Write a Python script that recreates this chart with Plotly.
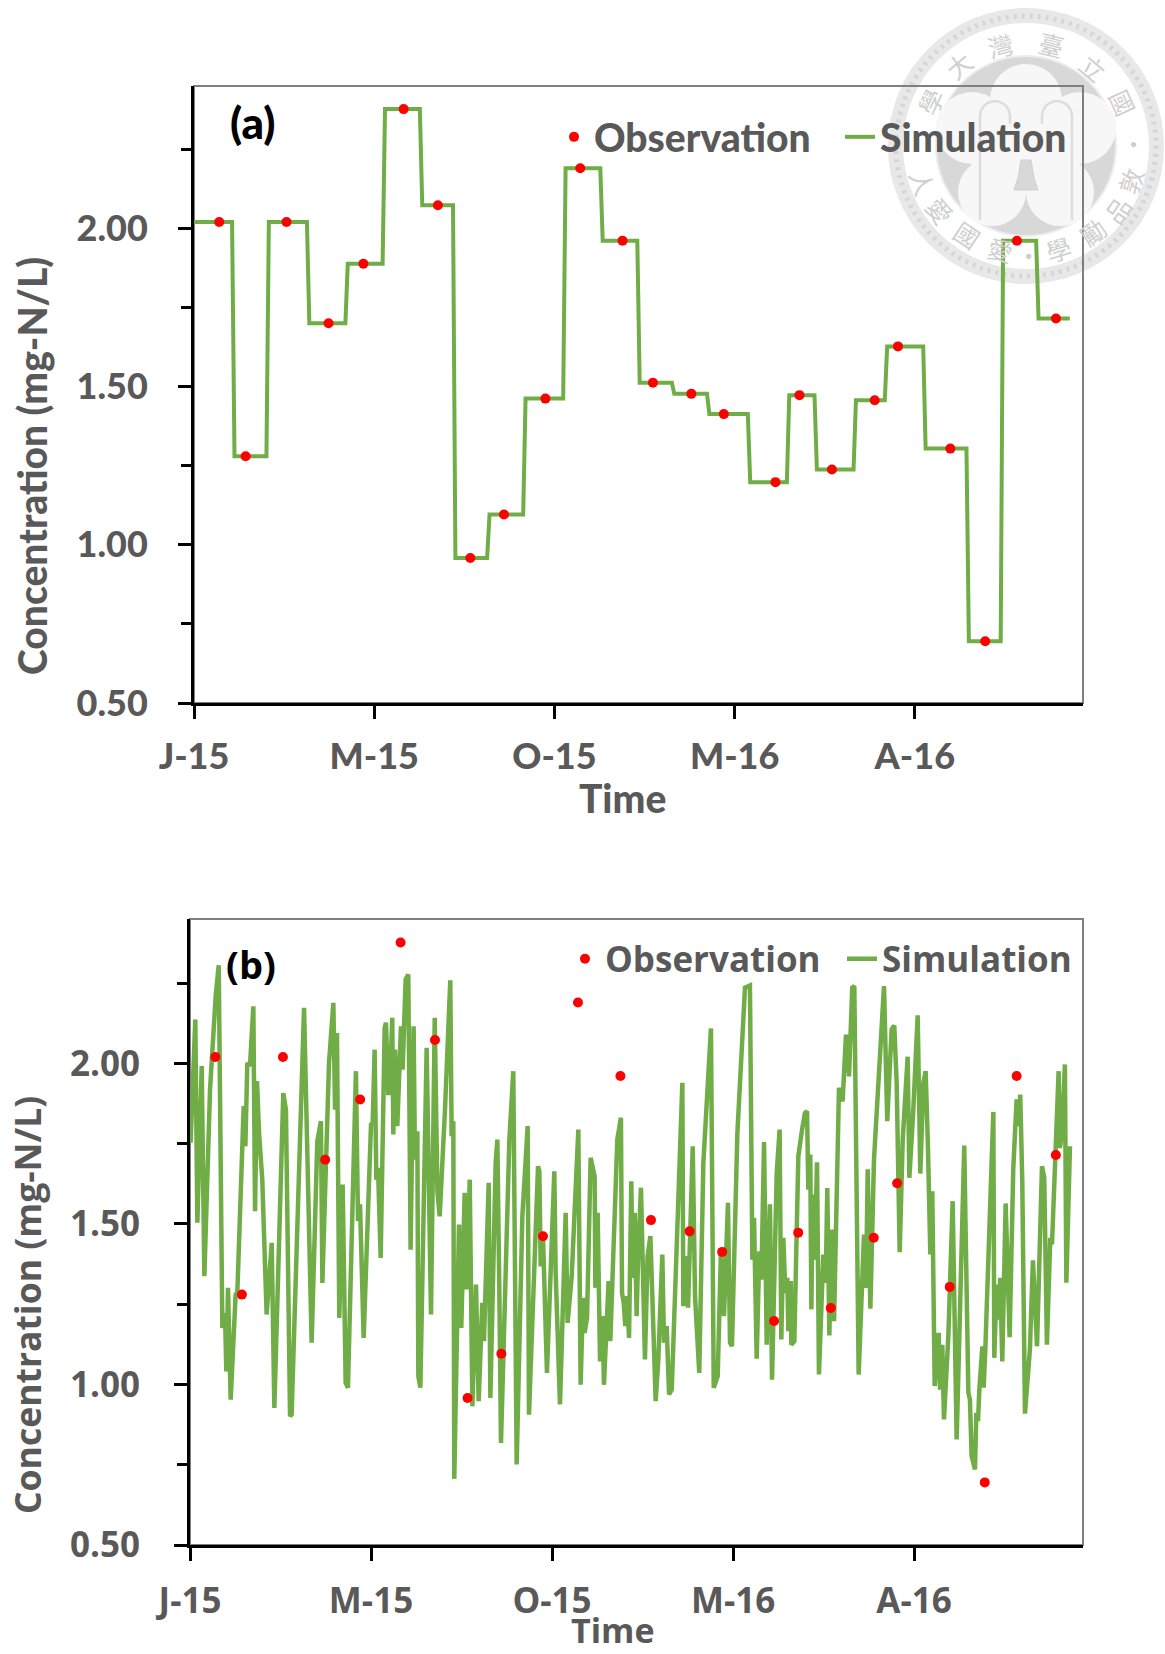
import math
import plotly.graph_objects as go

# ---------- data ----------
tick_days = [0, 150, 300, 450, 600]
tick_labels = ["J-15", "M-15", "O-15", "M-16", "A-16"]

obs_days = [21, 43, 77, 112, 141, 174.5, 203, 230, 258, 292.5, 321.5, 356.7, 382, 414, 441, 484, 504, 531, 566.6, 586, 629.6, 658.6, 685, 717.5]
obs_vals = [2.02, 1.28, 2.02, 1.70, 1.888, 2.377, 2.073, 0.958, 1.096, 1.462, 2.19, 1.961, 1.512, 1.477, 1.413, 1.198, 1.473, 1.238, 1.457, 1.627, 1.304, 0.695, 1.961, 1.715]

step_edges = [0, 32.7, 61.3, 95, 127, 158, 189, 216.6, 245, 275, 308.3, 339.2, 370, 398.8, 428, 462, 494.5, 517.5, 550, 576, 608, 644, 672.5, 702, 730]

sim_b_days = [0.5, 4.4, 6.1, 9.7, 11.9, 16.6, 21.3, 23.8, 26.8, 29, 30.1, 31.5, 33.7, 37.8, 39.2, 44.5, 45.9, 47.5, 49.7, 52.5, 53.9, 55.5, 57.2, 59.9, 63.5, 67.7, 69.9, 77.3, 79.5, 82.9, 84.2, 91.2, 94.5, 100.8, 105.5, 108.5, 109.7, 115.2, 118.8, 120.2, 121.8, 123.7, 126.5, 129, 130.9, 137.5, 139.2, 140.9, 143.9, 150, 151.4, 153, 154.4, 155.8, 158, 161.3, 162.4, 164.3, 165.4, 167.6, 168.5, 169.9, 171.8, 174.8, 176.2, 178.7, 180.9, 182.8, 185.3, 186.4, 188.4, 189.2, 190.9,
              196.1, 199.7, 202.8, 205, 206.9, 211.3, 215.7, 216.8, 218.2, 219, 222.9, 224.8, 227.6, 229.3, 231.8, 234, 237, 239.2, 242.2, 243.6, 247.5, 248.9, 253.3, 254.7, 256.3, 257.7, 264.6, 267.9, 270.7, 275.4, 279.8, 280.9, 288.4, 289.5, 290.6, 292.5, 295.8, 301.9, 303, 306.6, 311.3, 312.9, 316.3, 321.8, 323.7, 325.7, 327, 329, 332, 335.3, 335.9, 337.8, 339.8, 342, 343, 346.9, 348.3, 354.1, 357.1, 358, 359.4, 360.7, 362.1, 363.8, 365.7, 366.8, 368.5, 370.1, 371.5, 373.7, 377, 379.2, 381.5,
              385.9, 388.1, 391.4, 392.8, 395, 397, 399.2, 406.1, 408, 408.8, 411, 412.7, 416.6, 418.5, 422, 425.4, 431.7, 434, 437.3, 440, 442.5, 445.8, 447.5, 449.1, 453.6, 459.9, 464, 466, 467.4, 469.6, 471.8, 473.5, 475.7, 477.9, 480.6, 482.3, 486.2, 488.6, 490, 491.7, 493.3, 495, 495.8, 497.8, 498.3, 500.8, 504.1, 507.4, 509.6, 511.3, 512.4, 514, 514.9, 516, 517.6, 519.6, 521.2, 524.8, 526.8, 528.1, 529.8, 531.7, 533.7, 537.8, 540.8, 543.6, 546.1, 548.8, 550.5, 554.1, 558.5, 560.2, 561.6, 563.8, 566.8, 575.1,
              577.8, 581.4, 583.6, 585.6, 588.1, 590.6, 594.7, 596.1, 599.4, 603, 605.2, 607.7, 609.6, 611.5, 613.5, 615.1, 617.1, 620.4, 621.5, 623.4, 624.8, 628.4, 632, 635.3, 641.6, 643, 645, 646.3, 647.7, 650.5, 651.6, 653, 654.1, 656.6, 657.7, 659.1, 661.5, 665.7, 666.5, 668.4, 669.8, 671.5, 673.1, 675.9, 679.2, 682.2, 685, 686.4, 688, 689.7, 691.9, 696, 698.5, 700.8, 701.9, 706, 707.9, 710.1, 712.9, 714.3, 719.8, 720.9, 722.6, 725, 726.2, 729.2]
sim_b_vals = [1.753, 2.137, 1.504, 1.992, 1.337, 1.919, 2.210, 2.306, 1.176, 1.223, 1.041, 1.301, 0.953, 1.280, 1.285, 1.867, 1.742, 2.002, 1.992, 2.178, 1.540, 1.945, 1.784, 1.638, 1.218, 1.441, 0.927, 1.908, 1.856, 0.901, 0.906, 1.836, 2.173, 1.130, 1.758, 1.820, 1.316, 2.002, 2.189, 1.856, 2.095, 1.207, 1.623, 1.005, 0.990, 1.976, 1.509, 1.561, 1.145, 1.810, 1.815, 2.043, 1.638, 1.675, 1.394, 2.111, 2.127, 1.908, 1.908, 2.142, 1.779, 2.043, 1.805, 2.116, 1.981, 2.262, 2.277, 1.420, 2.116, 1.701, 1.789, 1.026, 0.990,
              2.049, 1.218, 2.142, 1.602, 1.524, 1.856, 2.259, 1.773, 1.820, 0.706, 1.498, 1.176, 1.597, 1.296, 1.638, 0.932, 1.311, 0.948, 1.254, 1.135, 1.628, 0.958, 1.690, 1.763, 1.301, 0.818, 1.758, 1.976, 0.751, 1.524, 1.805, 0.906, 1.680, 1.664, 1.368, 1.462, 1.036, 1.664, 1.348, 0.938, 1.535, 1.192, 1.337, 1.794, 0.999, 1.270, 1.161, 1.207, 1.706, 1.649, 1.301, 1.535, 1.072, 1.213, 0.999, 1.322, 1.135, 1.763, 1.831, 1.285, 1.254, 1.182, 1.275, 1.145, 1.633, 1.332, 1.535, 1.213, 1.420, 1.613, 1.078, 1.400, 1.462,
              0.948, 1.078, 1.405, 1.130, 1.182, 0.969, 0.984, 1.732, 1.940, 1.244, 1.400, 1.239, 1.742, 1.275, 1.036, 1.690, 2.109, 0.990, 1.026, 1.420, 1.213, 1.566, 1.130, 1.119, 1.784, 2.236, 2.243, 1.389, 1.519, 1.080, 1.415, 1.327, 1.755, 1.124, 1.561, 1.015, 1.659, 1.794, 1.140, 1.457, 1.285, 1.332, 1.166, 1.322, 1.124, 1.135, 1.711, 1.799, 1.846, 1.851, 1.607, 1.716, 1.234, 1.592, 1.389, 1.692, 1.031, 1.405, 1.317, 1.612, 1.153, 1.483, 1.197, 1.924, 1.882, 2.090, 1.960, 2.236, 2.241, 1.031, 1.467, 1.301, 1.670, 1.236, 1.701, 2.241,
              1.820, 2.106, 2.118, 1.940, 1.412, 1.763, 2.021, 1.644, 1.856, 2.150, 1.657, 1.940, 1.976, 1.742, 1.405, 1.602, 0.995, 1.161, 0.984, 1.124, 0.891, 1.150, 1.571, 0.829, 1.744, 1.420, 0.974, 0.953, 0.777, 0.735, 0.912, 0.886, 0.984, 1.119, 0.990, 1.114, 1.368, 1.849, 1.083, 1.311, 1.202, 1.332, 1.072, 1.564, 1.147, 1.670, 1.888, 1.805, 1.903, 1.628, 0.909, 1.109, 1.387, 1.145, 1.119, 1.680, 1.644, 1.124, 1.457, 1.436, 1.976, 1.737, 1.784, 1.997, 1.317, 1.742]

# ---------- page geometry ----------
W, H = 1165, 1654
GREEN, RED, GREY, BORDER = "#70AD47", "#FF0000", "#595959", "#7F7F7F"
FONT_A = "Lato"
FONT_B = "Open Sans"
WEIGHT_A = 900
WEIGHT_B = 700


def fx(px):
    return px / W


def fy(py):
    return 1 - py / H


# step series of panel (a): one flat run per sample, with a short ramp between runs
sim_a_x, sim_a_y = [], []
for i, v in enumerate(obs_vals):
    sim_a_x += [step_edges[i] + (1 if i else 0), step_edges[i + 1] - 1]
    sim_a_y += [v, v]

fig = go.Figure()
fig.add_trace(go.Scatter(x=sim_a_x, y=sim_a_y, mode="lines", name="Simulation", legend="legend",
                         line=dict(color=GREEN, width=4), xaxis="x", yaxis="y"))
fig.add_trace(go.Scatter(x=obs_days, y=obs_vals, mode="markers", name="Observation", legend="legend",
                         marker=dict(color=RED, size=10), xaxis="x", yaxis="y"))
fig.add_trace(go.Scatter(x=sim_b_days, y=sim_b_vals, mode="lines", name="Simulation", legend="legend2",
                         line=dict(color=GREEN, width=4.5), xaxis="x2", yaxis="y2"))
fig.add_trace(go.Scatter(x=obs_days, y=obs_vals, mode="markers", name="Observation", legend="legend2",
                         marker=dict(color=RED, size=10), xaxis="x2", yaxis="y2"))


def xaxis_style(px0, px1, font, weight, size, anchor, standoff):
    return dict(domain=[fx(px0), fx(px1)], range=[0, 740], anchor=anchor, tickmode="array", automargin=False,
                tickvals=tick_days, ticktext=tick_labels, ticks="outside", ticklen=13, tickwidth=3,
                tickcolor="black", showline=True, linecolor="black", linewidth=3, showgrid=False,
                zeroline=False, ticklabelstandoff=standoff, tickangle=0,
                tickfont=dict(family=font, size=size, color=GREY, weight=weight))


def yaxis_style(py0, py1, font, weight, size, anchor, standoff):
    return dict(domain=[fy(py1), fy(py0)], range=[0.5, 2.45], anchor=anchor, tickmode="linear", tick0=0.5,
                dtick=0.5, tickformat=".2f", ticks="outside", ticklen=13, tickwidth=3, tickcolor="black",
                automargin=False,
                minor=dict(dtick=0.25, tick0=0.5, ticks="outside", ticklen=10, tickwidth=3, tickcolor="black"),
                showline=True, linecolor="black", linewidth=3, showgrid=False, zeroline=False,
                ticklabelstandoff=standoff,
                tickfont=dict(family=font, size=size, color=GREY, weight=weight))


def legend_style(px, py, font, weight, size, entry):
    return dict(orientation="h", x=fx(px), y=fy(py), xanchor="left", yanchor="middle", itemwidth=30,
                entrywidth=entry, entrywidthmode="pixels", bgcolor="rgba(0,0,0,0)", traceorder="reversed",
                font=dict(family=font, size=size, color=GREY, weight=weight), itemclick=False)


# ---------- the seal behind the upper right corner ----------
CX, CY = 1026, 146
shapes = []


def disc(cx, cy, r, fill, line=None, width=0, dash=None):
    shapes.append(dict(type="circle", xref="paper", yref="paper", layer="below",
                       x0=fx(cx - r), x1=fx(cx + r), y0=fy(cy + r), y1=fy(cy - r),
                       fillcolor=fill, line=dict(color=line or fill, width=width, dash=dash)))


def trace_path(points, color, width, fill=None, close=False):
    d = "M " + " L ".join(f"{fx(a):.5f} {fy(b):.5f}" for a, b in points) + (" Z" if close else "")
    shapes.append(dict(type="path", xref="paper", yref="paper", layer="below", path=d,
                       fillcolor=fill or "rgba(0,0,0,0)", line=dict(color=color, width=width)))


disc(CX, CY, 138, "#E8E8E8")
disc(CX, CY, 130, "rgba(0,0,0,0)", "#D6D6D6", 5, "3px,5px")
disc(CX, CY, 123, "#FFFFFF")
disc(CX, CY, 90, "#D8D8D8", "#EDEDED", 2)
for dx, dy, r in [(0, -46, 36), (54, -18, 36), (-54, -18, 36), (34, 46, 34), (-34, 46, 34), (0, 0, 46)]:
    disc(CX + dx, CY + dy, r, "#F7F7F7")
for side in (-1, 1):
    arch = [(CX + side * 46, CY + 74), (CX + side * 46, CY - 30)]
    for deg in range(0, 181, 20):
        arch.append((CX + side * (31 + 15 * math.cos(math.radians(deg))),
                     CY - 30 - 15 * math.sin(math.radians(deg))))
    arch.append((CX + side * 16, CY - 22))
    trace_path(arch, "#DDDDDD", 2.5)
trace_path([(CX - 5, CY + 14), (CX + 5, CY + 14), (CX + 8, CY + 32), (CX + 12, CY + 44), (CX - 12, CY + 44), (CX - 8, CY + 32)],
           "#CFCFCF", 1, "#D8D8D8", True)

seal_chars = [("學", -96, -44, False), ("大", -68, -81, False), ("灣", -26, -101, False), ("臺", 25, -102, False),
              ("立", 67, -79, False), ("國", 97, -44, False), ("•", 109, -2, False), ("敦", 104, 35, True),
              ("品", 91, 64, True), ("勵", 66, 86, True), ("學", 32, 103, True), ("•", 2, 109, True),
              ("愛", -26, 103, True), ("國", -59, 88, True), ("愛", -86, 64, True), ("人", -103, 36, True)]

annotations = []
for ch, dx, dy, lower in seal_chars:
    angle = math.degrees(math.atan2(dx, -dy)) + (180 if lower else 0)
    annotations.append(dict(text=ch, xref="paper", yref="paper", x=fx(CX + dx), y=fy(CY + dy), showarrow=False,
                            textangle=((angle + 180) % 360) - 180, xanchor="center", yanchor="middle",
                            font=dict(family="Noto Sans CJK TC", size=25, color="#CFCFCF")))


def text_note(text, px, py, font, weight, size, color, angle=0):
    annotations.append(dict(text=text, xref="paper", yref="paper", x=fx(px), y=fy(py), showarrow=False,
                            xanchor="center", yanchor="middle", textangle=angle,
                            font=dict(family=font, size=size, color=color, weight=weight)))


text_note("(a)", 252, 122, FONT_A, WEIGHT_A, 44, "black")
text_note("(b)", 251, 964, FONT_B, WEIGHT_B, 38, "black")
text_note("Time", 623, 798, FONT_A, WEIGHT_A, 39, GREY)
text_note("Time", 613, 1630, FONT_B, WEIGHT_B, 34, GREY)
text_note("Concentration (mg-N/L)", 32, 466, FONT_A, WEIGHT_A, 39, GREY, -90)
text_note("Concentration (mg-N/L)", 27, 1305, FONT_B, WEIGHT_B, 35.5, GREY, -90)

# grey frame on the top and right of each plot
for x0, x1, y0, y1 in [(194, 1083, 86, 703), (190, 1083, 919, 1545)]:
    shapes.append(dict(type="rect", xref="paper", yref="paper", layer="below", x0=fx(x0), x1=fx(x1),
                       y0=fy(y1), y1=fy(y0), line=dict(color=BORDER, width=2), fillcolor="rgba(0,0,0,0)"))

fig.update_layout(
    width=W, height=H, margin=dict(l=0, r=0, t=0, b=0), autosize=False,
    paper_bgcolor="white", plot_bgcolor="rgba(0,0,0,0)", showlegend=True,
    xaxis=xaxis_style(194, 1083, FONT_A, WEIGHT_A, 36, "y", 7),
    yaxis=yaxis_style(86, 703, FONT_A, WEIGHT_A, 36, "x", 23),
    xaxis2=xaxis_style(190, 1083, FONT_B, WEIGHT_B, 35, "y2", 10),
    yaxis2=yaxis_style(919, 1545, FONT_B, WEIGHT_B, 35, "x2", 27),
    legend=legend_style(554, 137, FONT_A, WEIGHT_A, 39, 241),
    legend2=legend_style(565, 959, FONT_B, WEIGHT_B, 35, 232),
    shapes=shapes, annotations=annotations,
)

fig.write_html("out.html", config={"displayModeBar": False},
               post_script="document.body.style.margin='0';document.documentElement.style.overflow='hidden';")
